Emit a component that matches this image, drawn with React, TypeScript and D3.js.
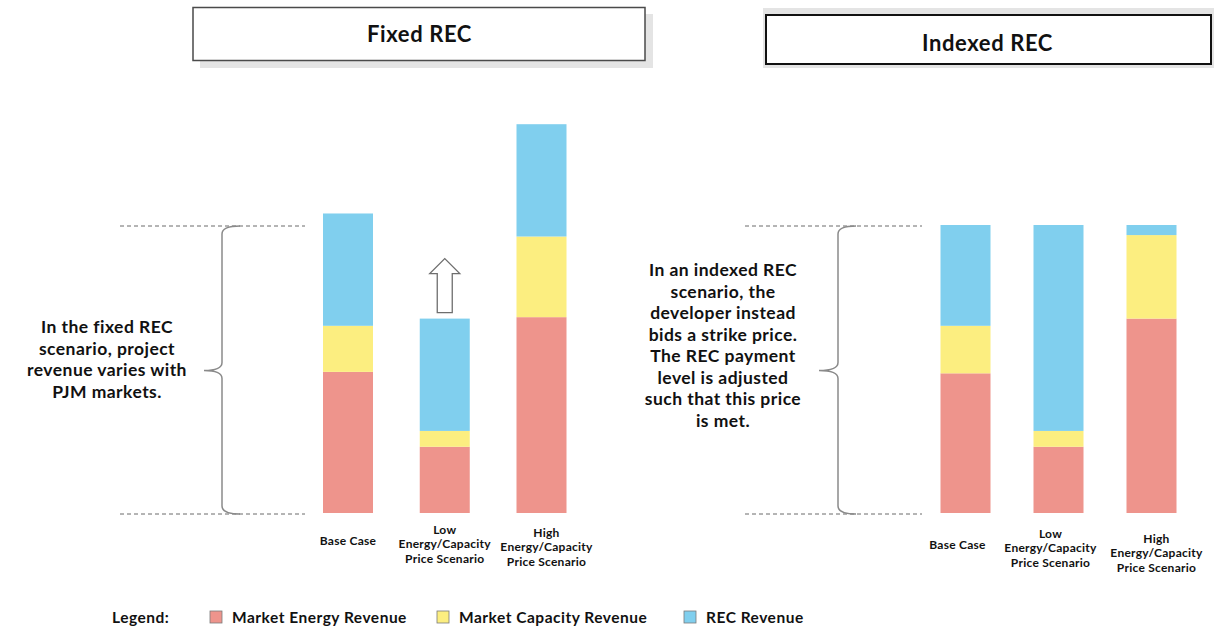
import React from "react";
import * as d3 from "d3";

// Revenue components per scenario, in units where the strike price = 100
const categories = ["Base Case", "Low", "High"];
const categoryLabelLines = [
  ["Base Case"],
  ["Low", "Energy/Capacity", "Price Scenario"],
  ["High", "Energy/Capacity", "Price Scenario"],
];
const strikePrice = 100;

const fixedEnergy = [49, 23, 68];
const fixedCapacity = [16, 5.5, 28];
const fixedRec = [39, 39, 39];

const indexedEnergy = [48.5, 23, 67.5];
const indexedCapacity = [16.5, 5.5, 29];
const indexedRec = [35, 71.5, 3.5];

const seriesKeys = ["energy", "capacity", "rec"];
const legendLabels = ["Market Energy Revenue", "Market Capacity Revenue", "REC Revenue"];
const colors: Record<string, string> = {
  energy: "#EE948C",
  capacity: "#FCEE80",
  rec: "#80CFEE",
};

const fixedNote = ["In the fixed REC", "scenario, project", "revenue varies with", "PJM markets."];
const indexedNote = [
  "In an indexed REC",
  "scenario, the",
  "developer instead",
  "bids a strike price.",
  "The REC payment",
  "level is adjusted",
  "such that this price",
  "is met.",
];

const FONT = "Lato, 'Open Sans', sans-serif";
const W = 1214;
const H = 629;

const y = d3.scaleLinear().domain([0, strikePrice]).range([513, 225]);
const BAR_W = 50;

type Panel = {
  title: string;
  energy: number[];
  capacity: number[];
  rec: number[];
  xRange: [number, number];
  labelDx: number[];
  labelDy: number[];
  dashX: [number, number];
  braceX: number;
  tipX: number;
  note: string[];
  noteX: number;
  noteY: number;
  arrow: boolean;
};

const panels: Panel[] = [
  {
    title: "Fixed REC",
    energy: fixedEnergy,
    capacity: fixedCapacity,
    rec: fixedRec,
    xRange: [348, 541.5],
    labelDx: [0, 0, 5],
    labelDy: [32, 21, 24],
    dashX: [120, 305],
    braceX: 222,
    tipX: 204,
    note: fixedNote,
    noteX: 107,
    noteY: 333,
    arrow: true,
  },
  {
    title: "Indexed REC",
    energy: indexedEnergy,
    capacity: indexedCapacity,
    rec: indexedRec,
    xRange: [965.5, 1151.5],
    labelDx: [-8, -8, 5],
    labelDy: [36, 25, 30],
    dashX: [745, 922],
    braceX: 838,
    tipX: 819,
    note: indexedNote,
    noteX: 723,
    noteY: 276,
    arrow: false,
  },
];

function brace(x: number, tip: number, y0: number, y1: number) {
  const mid = (y0 + y1) / 2 + 0.5;
  const p = d3.path();
  p.moveTo(x + 18, y0);
  p.quadraticCurveTo(x, y0, x, y0 + 8);
  p.lineTo(x, mid - 8);
  p.quadraticCurveTo(x, mid, tip, mid);
  p.quadraticCurveTo(x, mid, x, mid + 8);
  p.lineTo(x, y1 - 8);
  p.quadraticCurveTo(x, y1, x + 18, y1);
  return p.toString();
}

function PanelView({ panel }: { panel: Panel }) {
  const x = d3.scalePoint<string>().domain(categories).range(panel.xRange);
  const rows = categories.map((c, i) => ({
    category: c,
    energy: panel.energy[i],
    capacity: panel.capacity[i],
    rec: panel.rec[i],
  }));
  const stacked = d3.stack<any>().keys(seriesKeys)(rows);
  const lowIdx = 1;
  const lowTop = y(panel.energy[lowIdx] + panel.capacity[lowIdx] + panel.rec[lowIdx]);
  const ax = x(categories[lowIdx]) as number;

  return (
    <g>
      {/* reference lines and brace */}
      {[0, strikePrice].map((v) => (
        <line
          key={v}
          x1={panel.dashX[0]}
          x2={panel.dashX[1]}
          y1={y(v) + 1}
          y2={y(v) + 1}
          stroke="#6b6b6b"
          strokeWidth={1}
          strokeDasharray="4 3"
        />
      ))}
      <path
        d={brace(panel.braceX, panel.tipX, y(strikePrice) + 1, y(0) + 1)}
        fill="none"
        stroke="#8a8a8a"
        strokeWidth={1.5}
      />
      {/* stacked bars */}
      {stacked.map((s) => (
        <g key={s.key} fill={colors[s.key]}>
          {s.map((d, i) => (
            <rect
              key={i}
              x={(x(categories[i]) as number) - BAR_W / 2}
              y={y(d[1])}
              width={BAR_W}
              height={y(d[0]) - y(d[1])}
            />
          ))}
        </g>
      ))}
      {/* category labels */}
      {categoryLabelLines.map((lines, i) => (
        <text
          key={i}
          x={(x(categories[i]) as number) + panel.labelDx[i]}
          y={y(0) + panel.labelDy[i]}
          textAnchor="middle"
          fontFamily={FONT}
          fontWeight={700}
          fontSize={12}
          letterSpacing={0.25}
          fill="#111"
        >
          {lines.map((l, j) => (
            <tspan key={j} x={(x(categories[i]) as number) + panel.labelDx[i]} dy={j === 0 ? 0 : 14.3}>
              {l}
            </tspan>
          ))}
        </text>
      ))}
      {/* explanatory note */}
      <text
        textAnchor="middle"
        fontFamily={FONT}
        fontWeight={700}
        fontSize={17.5}
        letterSpacing={0.45}
        fill="#111"
      >
        {panel.note.map((l, j) => (
          <tspan key={j} x={panel.noteX} y={panel.noteY + j * 21.5}>
            {l}
          </tspan>
        ))}
      </text>
      {panel.arrow && (
        <path
          d={`M${ax - 7.5},${lowTop - 6} L${ax - 7.5},${lowTop - 45} L${ax - 15},${lowTop - 45} L${ax},${lowTop - 60} L${ax + 15},${lowTop - 45} L${ax + 7.5},${lowTop - 45} L${ax + 7.5},${lowTop - 6} Z`}
          fill="#fff"
          stroke="#6e6e6e"
          strokeWidth={1.3}
        />
      )}
    </g>
  );
}

export default function App() {
  const legendX = [210, 437, 684];
  return (
    <div style={{ position: "absolute", left: 0, top: 0 }}>
      <svg width={W} height={H} style={{ display: "block", background: "#fff" }}>
        {/* title boxes */}
        <rect x={200} y={14} width={453} height={54} fill="#e4e4e4" />
        <rect x={193} y={7.5} width={452} height={53} fill="#fff" stroke="#4a4a4a" strokeWidth={1.5} />
        <text
          x={419.5}
          y={42}
          textAnchor="middle"
          fontFamily={FONT}
          fontWeight={700}
          fontSize={22}
          letterSpacing={0.6}
          fill="#111"
        >
          {panels[0].title}
        </text>
        <rect x={763} y={8} width={451} height={60} fill="#e4e4e4" />
        <rect x={766} y={15} width={445} height={49} fill="#fff" stroke="#111" strokeWidth={2} />
        <text
          x={987.5}
          y={51}
          textAnchor="middle"
          fontFamily={FONT}
          fontWeight={700}
          fontSize={22}
          letterSpacing={0.6}
          fill="#111"
        >
          {panels[1].title}
        </text>

        {panels.map((p) => (
          <PanelView key={p.title} panel={p} />
        ))}

        {/* legend */}
        <text x={112} y={623} fontFamily={FONT} fontWeight={700} fontSize={15.5} letterSpacing={0.5} fill="#111">
          Legend:
        </text>
        {seriesKeys.map((k, i) => (
          <g key={k}>
            <rect x={legendX[i]} y={611} width={12} height={12} fill={colors[k]} stroke="#7a7a7a" strokeWidth={0.8} />
            <text
              x={legendX[i] + 22}
              y={623}
              fontFamily={FONT}
              fontWeight={700}
              fontSize={15.5}
              letterSpacing={0.5}
              fill="#111"
            >
              {legendLabels[i]}
            </text>
          </g>
        ))}
      </svg>
    </div>
  );
}
